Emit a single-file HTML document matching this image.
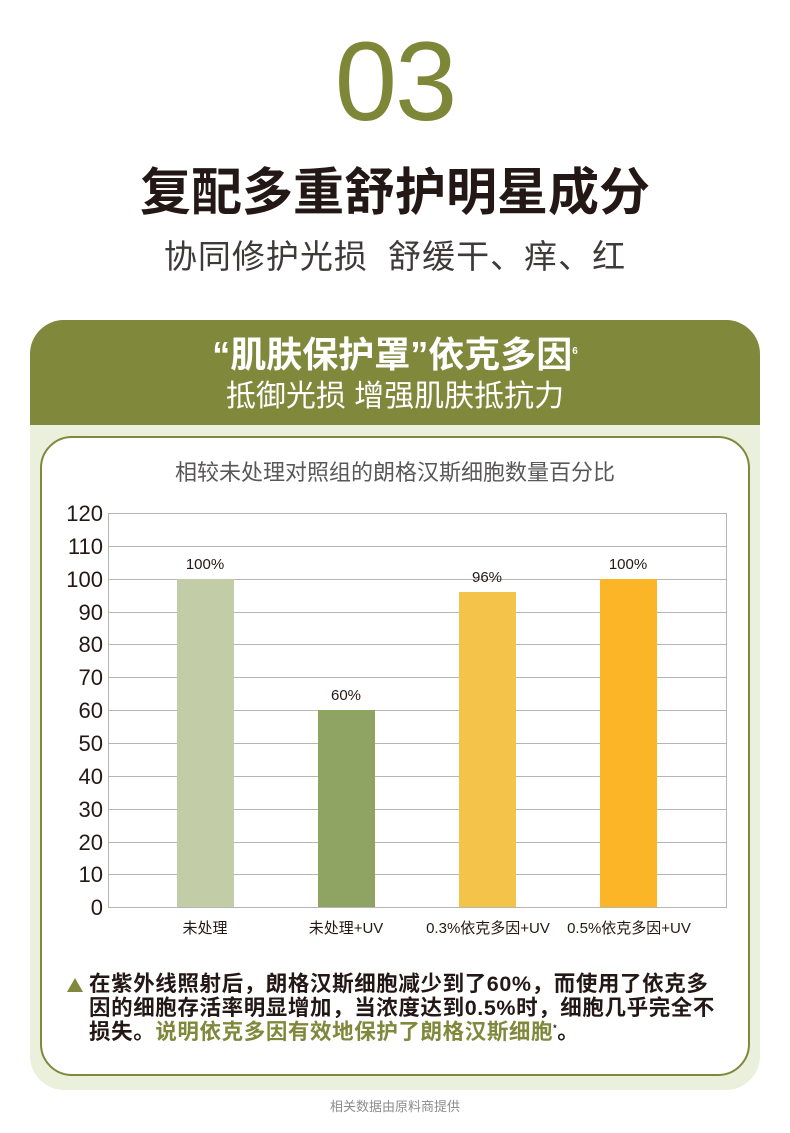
<!DOCTYPE html><html><head><meta charset="utf-8"><style>
body{margin:0;width:790px;height:1133px;background:#fff;font-family:"Liberation Sans","Noto Sans CJK SC",sans-serif;position:relative;overflow:hidden}
.a{position:absolute}
</style></head><body>
<div class="a" style="left:0;width:790px;top:22px;text-align:center;font-size:112px;color:#7e8738;line-height:120px;letter-spacing:-2px">03</div>
<div class="a" style="left:0;width:790px;top:160px;text-align:center;font-size:51px;font-weight:bold;color:#231815;line-height:66px">复配多重舒护明星成分</div>
<div class="a" style="left:0;width:790px;top:234px;text-align:center;font-size:33px;color:#3e3a39;line-height:46px;letter-spacing:1px">协同修护光损&nbsp; 舒缓干、痒、红</div>
<div class="a" style="left:30px;top:320px;width:730px;height:770px;border-radius:34px;background:#eaf0dc;overflow:hidden">
<div class="a" style="left:0;top:0;width:730px;height:105px;background:#7f883b"></div>
</div>
<div class="a" style="left:0;width:790px;top:332px;text-align:center;font-size:36px;font-weight:bold;color:#fff;line-height:46px">“肌肤保护罩”依克多因<sup style="font-size:10px;line-height:0">6</sup></div>
<div class="a" style="left:0;width:790px;top:377px;text-align:center;font-size:30px;color:#fff;line-height:40px">抵御光损 增强肌肤抵抗力</div>
<div class="a" style="left:40px;top:436px;width:706px;height:636px;border:2px solid #7f883b;border-radius:32px;background:#fff"></div>
<div class="a" style="left:0;width:790px;top:457px;text-align:center;font-size:22px;color:#595757;line-height:32px">相较未处理对照组的朗格汉斯细胞数量百分比</div>
<svg class="a" style="left:0;top:0" width="790" height="1133">
<g stroke="#b5b5b5" stroke-width="1">
<rect x="108.5" y="513.5" width="618" height="394" fill="none"/>
<line x1="108" x2="726" y1="546.5" y2="546.5"/><line x1="108" x2="726" y1="579.5" y2="579.5"/><line x1="108" x2="726" y1="612.5" y2="612.5"/><line x1="108" x2="726" y1="644.5" y2="644.5"/><line x1="108" x2="726" y1="677.5" y2="677.5"/><line x1="108" x2="726" y1="710.5" y2="710.5"/><line x1="108" x2="726" y1="743.5" y2="743.5"/><line x1="108" x2="726" y1="776.5" y2="776.5"/><line x1="108" x2="726" y1="809.5" y2="809.5"/><line x1="108" x2="726" y1="842.5" y2="842.5"/><line x1="108" x2="726" y1="874.5" y2="874.5"/>
</g>
<rect x="177" y="579" width="57" height="328" fill="#c2cca6"/>
<rect x="318" y="710" width="57" height="197" fill="#8fa363"/>
<rect x="459" y="592" width="57" height="315" fill="#f3c34a"/>
<rect x="600" y="579" width="57" height="328" fill="#fbb526"/>
<g font-size="22" fill="#231815" text-anchor="end" font-family="Liberation Sans,sans-serif">
<text x="103" y="521">120</text><text x="103" y="554">110</text><text x="103" y="587">100</text><text x="103" y="620">90</text><text x="103" y="652">80</text><text x="103" y="685">70</text><text x="103" y="718">60</text><text x="103" y="751">50</text><text x="103" y="784">40</text><text x="103" y="817">30</text><text x="103" y="850">20</text><text x="103" y="882">10</text><text x="103" y="915">0</text>
</g>
<g font-size="15" fill="#231815" text-anchor="middle" font-family="Liberation Sans,Noto Sans CJK SC,sans-serif">
<text x="205" y="569">100%</text><text x="346" y="700">60%</text><text x="487" y="582">96%</text><text x="628" y="569">100%</text>
<text x="205" y="933">未处理</text><text x="346" y="933">未处理+UV</text><text x="488" y="933">0.3%依克多因+UV</text><text x="629" y="933">0.5%依克多因+UV</text>
</g>
<polygon points="67,992 83,992 75,978" fill="#7f883b"/>
</svg>
<div class="a" style="left:89px;top:972px;white-space:nowrap;font-size:21.5px;font-weight:bold;color:#231815;line-height:24px;letter-spacing:0.6px">在紫外线照射后，朗格汉斯细胞减少到了60%，而使用了依克多<br>因的细胞存活率明显增加，当浓度达到0.5%时，细胞几乎完全不<br>损失。<span style="color:#7f883b">说明依克多因有效地保护了朗格汉斯细胞</span><sup style="font-size:9px;line-height:0">*</sup>。</div>
<div class="a" style="left:0;width:790px;top:1096px;text-align:center;font-size:13px;color:#8c8c8c">相关数据由原料商提供</div>
</body></html>
